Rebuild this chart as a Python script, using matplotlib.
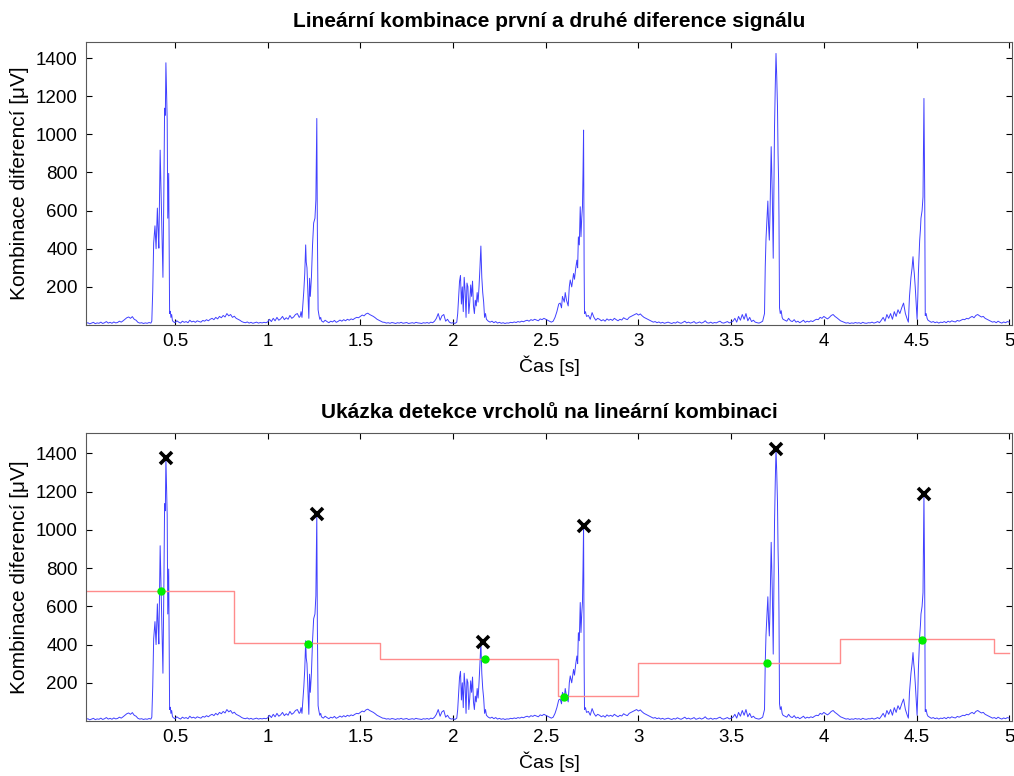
import numpy as np
import matplotlib.pyplot as plt
from matplotlib.ticker import FormatStrFormatter, MultipleLocator

plt.rcParams['font.family'] = ['Liberation Sans', 'DejaVu Sans']

# signal, time [s] / value [uV], in pieces
t_base1 = [0.02 + 0.01 * i for i in range(36)]
v_base1 = [8, 12, 6, 10, 14, 7, 11, 9, 15, 8, 12, 18, 10, 14, 9, 16, 11, 13, 20, 15,
           22, 30, 38, 42, 35, 44, 30, 25, 14, 10, 12, 8, 11, 9, 13, 10]
t_qrs1 = [0.375, 0.38, 0.385, 0.392, 0.398, 0.405, 0.41, 0.413, 0.42, 0.425, 0.43, 0.435,
          0.44, 0.444, 0.448, 0.451, 0.455, 0.458, 0.461, 0.466, 0.469, 0.471, 0.475,
          0.478, 0.482, 0.486]
v_qrs1 = [20, 180, 430, 520, 400, 613, 470, 403, 917, 700, 480, 250, 700, 1137, 1100,
          1375, 1200, 1075, 560, 795, 300, 60, 72, 40, 55, 25]
t_base2 = [0.49 + 0.01 * i for i in range(69)]
v_base2 = [18, 12, 22, 15, 10, 20, 14, 18, 12, 25, 16, 20, 14, 22, 18, 15, 24, 20, 28, 22,
           30, 35, 28, 40, 32, 45, 38, 50, 42, 60, 48, 55, 40, 46, 35, 30, 25, 18, 14, 12,
           16, 10, 14, 9, 12, 15, 10, 13, 11, 14, 12, 16,
           30, 18, 35, 22, 40, 25, 32, 45, 28, 38, 30, 50, 35, 42, 55, 60, 40]
t_qrs2 = [1.175, 1.18, 1.185, 1.19, 1.195, 1.2, 1.205, 1.208, 1.212, 1.217, 1.222, 1.226,
          1.23, 1.236, 1.242, 1.248, 1.255, 1.26, 1.265, 1.268, 1.272, 1.276, 1.281, 1.286]
v_qrs2 = [45, 70, 40, 110, 180, 270, 420, 330, 300, 170, 35, 245, 150, 250, 420, 535, 560,
          655, 1083, 500, 80, 55, 30, 40]
t_base3 = [1.29 + 0.01 * i for i in range(73)]
v_base3 = [22, 15, 25, 18, 12, 20, 16, 24, 14, 19, 26, 20, 28, 22, 30, 25, 32, 28, 35, 40, 38,
           45, 52, 48, 58, 62, 55, 50, 45, 38, 30, 25, 20, 15,
           14, 10, 12, 9, 13, 11, 8, 12, 10, 14, 9, 11, 13, 8, 10, 12, 9, 14, 11, 10, 8, 12,
           10, 13, 9, 15, 12, 20,
           35, 60, 25, 48, 55, 20, 30, 15, 10, 12, 8]
t_qrs3 = [2.02 + 0.005 * i for i in range(35)]
v_qrs3 = [15, 60, 150, 230, 260, 110, 200, 70, 250, 180, 40, 220, 200, 60, 120, 210, 150,
          230, 100, 60, 130, 100, 170, 120, 200, 300, 414, 250, 170, 120, 40, 60, 30, 25, 20]
t_base4 = [2.20 + 0.01 * i for i in range(34)]
v_base4 = [15, 20, 12, 18, 10, 14, 9, 12, 8, 11, 10, 14, 12, 16, 13, 18, 15, 20, 17, 22,
           25, 20, 28, 24, 30, 26, 22, 32, 28, 35, 30, 25, 20, 15]
t_qrs4 = [2.54, 2.55, 2.56, 2.57, 2.578, 2.585, 2.59, 2.6, 2.605, 2.612, 2.621, 2.627,
          2.632, 2.64, 2.65, 2.655, 2.662, 2.668, 2.672, 2.676, 2.681, 2.686, 2.69, 2.694,
          2.698, 2.701, 2.704, 2.707, 2.709, 2.714, 2.72]
v_qrs4 = [20, 40, 70, 110, 115, 90, 150, 120, 170, 130, 100, 200, 236, 200, 270, 240, 300,
          340, 300, 462, 420, 620, 463, 560, 620, 800, 1022, 300, 60, 70, 45]
t_base5 = [2.73 + 0.01 * i for i in range(95)]
v_base5 = [50, 30, 65, 40, 25, 35, 30, 22,
           28, 20, 32, 25, 30, 24, 35, 28, 22, 30, 26, 38, 32, 28, 40,
           45, 50, 55, 60, 52, 58, 48, 40, 35, 30, 25,
           20, 15, 18, 12, 16, 10, 14, 9, 12, 15, 11, 8, 13, 10, 17, 12, 9, 14, 20, 11, 15,
           10, 13, 18, 9, 12, 16, 10, 14, 22, 12, 10, 15, 9, 13, 11, 16, 20, 12, 10, 14, 18,
           11, 15,
           20, 35, 15, 45, 25, 55, 30, 60, 22, 40, 18, 25, 15, 12, 10, 14, 20]
t_qrs5 = [3.68, 3.684, 3.688, 3.693, 3.698, 3.702, 3.706, 3.71, 3.716, 3.719, 3.722, 3.727,
          3.734, 3.738, 3.742, 3.746, 3.75, 3.753, 3.756, 3.758, 3.761, 3.765, 3.77, 3.775,
          3.78]
v_qrs5 = [60, 306, 450, 550, 650, 520, 445, 600, 935, 800, 680, 350, 1040, 1250, 1424,
          1300, 1144, 900, 760, 568, 90, 60, 75, 40, 30]
t_base6 = [3.79 + 0.01 * i for i in range(66)]
v_base6 = [25, 20, 35, 22, 18, 28, 15, 20, 12, 18, 25, 14, 20, 16, 22, 18, 25, 30, 28, 40,
           35, 45, 38, 32, 40, 50, 55, 45, 38, 30, 22, 18,
           14, 10, 12, 8, 11, 9, 13, 10, 12, 8, 14, 10, 9, 12, 11, 15, 10, 13, 18, 12,
           25, 40, 20, 55, 35, 60, 30, 70, 45, 80, 60, 90, 115, 60]
t_qrs6 = [4.45, 4.456, 4.462, 4.47, 4.476, 4.481, 4.485, 4.488, 4.493, 4.499, 4.503, 4.507,
          4.51, 4.517, 4.521, 4.524, 4.53, 4.535, 4.54, 4.544, 4.547, 4.552, 4.557, 4.562]
v_qrs6 = [30, 15, 150, 250, 300, 358, 300, 270, 200, 96, 30, 150, 270, 445, 500, 560, 600,
          672, 1188, 707, 50, 60, 35, 25]
t_base7 = [4.57 + 0.01 * i for i in range(44)]
v_base7 = [20, 14, 18, 12, 16, 10, 15, 13, 18, 12, 20, 15, 22, 18, 16, 24, 20, 25,
           30, 28, 35, 32, 40, 45, 38, 50, 55, 48, 42, 45, 35, 30, 25, 20,
           15, 18, 12, 20, 14, 10, 16, 12, 18, 15]

# detected peaks (x) and threshold crossings (green)
peak_t = [0.451, 1.265, 2.16, 2.704, 3.742, 4.54]
peak_v = [1375, 1083, 414, 1022, 1424, 1188]
cross_t = [0.423, 1.216, 2.17, 2.601, 3.696, 4.529]
cross_v = [678, 405, 322, 127, 301, 426]

# adaptive threshold steps
thr_t = [0.02, 0.82, 1.607, 2.568, 2.997, 4.085, 4.92, 5.0]
thr_v = [680, 408, 322, 129, 302, 431, 355, 355]

t_sig = np.concatenate([t_base1, t_qrs1, t_base2, t_qrs2, t_base3, t_qrs3, t_base4,
                        t_qrs4, t_base5, t_qrs5, t_base6, t_qrs6, t_base7])
v_sig = np.concatenate([v_base1, v_qrs1, v_base2, v_qrs2, v_base3, v_qrs3, v_base4,
                        v_qrs4, v_base5, v_qrs5, v_base6, v_qrs6, v_base7])

fig = plt.figure(figsize=(10.14, 7.76), dpi=100)
ax1 = fig.add_axes([86 / 1014, 1 - 325 / 776, 926 / 1014, 283 / 776])
ax2 = fig.add_axes([86 / 1014, 1 - 721 / 776, 926 / 1014, 288 / 776])

line_col = '#4040ff'
ax1.plot(t_sig, v_sig, color=line_col, lw=0.7)
ax2.plot(t_sig, v_sig, color=line_col, lw=0.7)
ax2.step(thr_t, thr_v, where='post', color='#ff8c8c', lw=1.0)
ax2.plot(peak_t, peak_v, 'x', color='black', ms=8, mew=2.6)
ax2.plot(cross_t, cross_v, 'o', color='#00ee00', ms=5, mec='#00ee00')

titles = ['Lineární kombinace první a druhé diference signálu',
          'Ukázka detekce vrcholů na lineární kombinaci']
for ax, title, ytop in [(ax1, titles[0], 1484), (ax2, titles[1], 1507)]:
    ax.set_xlim(0.02, 5.015)
    ax.set_ylim(0, ytop)
    ax.xaxis.set_major_locator(MultipleLocator(0.5))
    ax.xaxis.set_major_formatter(FormatStrFormatter('%g'))
    ax.set_yticks([200, 400, 600, 800, 1000, 1200, 1400])
    ax.tick_params(direction='in', top=True, right=True, length=4, width=0.8,
                   labelsize=13.5, pad=6)
    for s in ax.spines.values():
        s.set_color('0.35')
        s.set_linewidth(0.8)
    ax.set_title(title, fontsize=15, fontweight='bold', pad=11)
    ax.set_xlabel('Čas [s]', fontsize=14, labelpad=4)
    ax.set_ylabel('Kombinace diferencí [μV]', fontsize=15, labelpad=5)

fig.savefig('out.png', dpi=100)
